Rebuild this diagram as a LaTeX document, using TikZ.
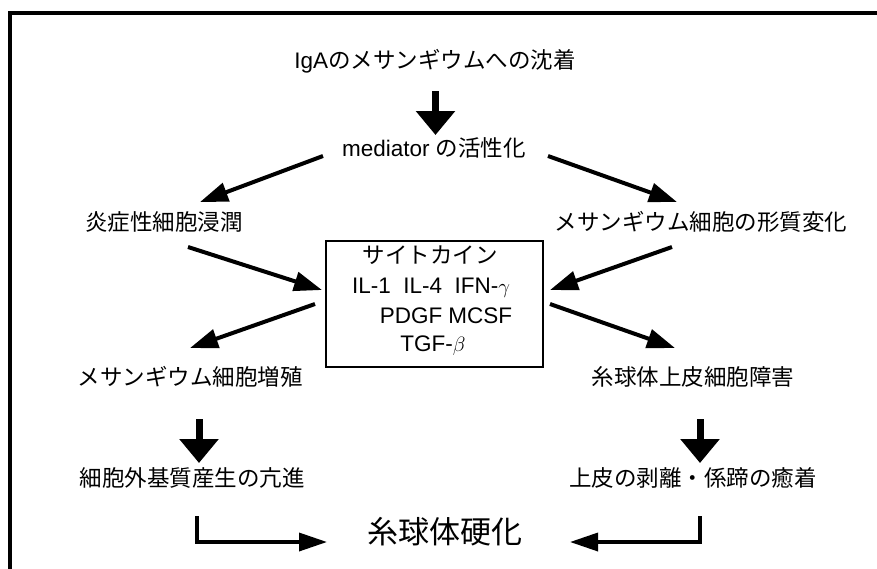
\documentclass[tikz,border=0pt]{standalone}
\usepackage{fontspec}
\setmainfont{Liberation Sans}
\newfontfamily\jp{Noto Sans CJK JP}
\usetikzlibrary{arrows.meta}
\begin{document}
\begin{tikzpicture}[x=1pt,y=-1pt,
  lbl/.style={inner sep=0pt, font=\fontsize{22.5}{27}\selectfont, text height=0.86em, text depth=0.1em},
  biglbl/.style={inner sep=0pt, font=\fontsize{31}{37}\selectfont, text height=0.86em, text depth=0.1em},
  thinarrow/.style={line width=4pt, -{Triangle[length=28pt,width=19pt]}},
  fatarrow/.style={line width=7pt, -{Triangle[length=24pt,width=38pt]}},
  elbowarrow/.style={line width=3.5pt, -{Triangle[length=28pt,width=18pt]}},
  cytobox/.style={draw, line width=2.5pt, minimum width=217pt, minimum height=126pt, inner sep=0pt}
]
\useasboundingbox (0,0) rectangle (877,568);
\fill[white] (0,0) rectangle (877,568);
% outer frame (cut off at right and bottom)
\draw[line width=4pt] (9.5,13) rectangle (900,600);

% texts
\node[lbl] (iga) at (435,65) {IgA{\jp のメサンギウムへの沈着}};
\node[lbl] (med) at (434,153) {mediator {\jp の活性化}};
\node[lbl] (inf) at (164,227) {\jp 炎症性細胞浸潤};
\node[lbl] (mes) at (701,227) {\jp メサンギウム細胞の形質変化};
\node[cytobox] (box) at (434.5,304) {};
\node[lbl] (c1) at (430,260) {\jp サイトカイン};
\node[lbl] (c2) at (431,290) {IL-1\ \ IL-4\ \ IFN-$\gamma$};
\node[lbl] (c3) at (446,320) {PDGF MCSF};
\node[lbl] (c4) at (433,348) {TGF-$\beta$};
\node[lbl] (pro) at (190,382) {\jp メサンギウム細胞増殖};
\node[lbl] (epi) at (693,382) {\jp 糸球体上皮細胞障害};
\node[lbl] (ecm) at (192,483) {\jp 細胞外基質産生の亢進};
\node[lbl] (det) at (693,483) {\jp 上皮の剥離・係蹄の癒着};
\node[biglbl] (scl) at (445,540) {\jp 糸球体硬化};

% connector end points
\coordinate (igaS) at (435.5,91);
\coordinate (medT) at (435.5,135);
\coordinate (medL) at (323,156);
\coordinate (infT) at (200,202);
\coordinate (medR) at (548,156);
\coordinate (mesT) at (677,202);
\coordinate (infS) at (188,247);
\coordinate (boxL) at (322,290);
\coordinate (mesS) at (672,247);
\coordinate (boxR) at (550,290);
\coordinate (boxLS) at (315,304);
\coordinate (proT) at (190,348);
\coordinate (boxRS) at (550,304);
\coordinate (epiT) at (675,348);
\coordinate (proS) at (199,419);
\coordinate (ecmT) at (199,463);
\coordinate (epiS) at (700,419);
\coordinate (detT) at (700,463);
\coordinate (ecmS) at (197,516);
\coordinate (sclL) at (327,542);
\coordinate (detS) at (700,516);
\coordinate (sclR) at (570,542);

\draw[fatarrow] (igaS) -- (medT);
\draw[thinarrow] (medL) -- (infT);
\draw[thinarrow] (medR) -- (mesT);
\draw[thinarrow] (infS) -- (boxL);
\draw[thinarrow] (mesS) -- (boxR);
\draw[thinarrow] (boxLS) -- (proT);
\draw[thinarrow] (boxRS) -- (epiT);
\draw[fatarrow] (proS) -- (ecmT);
\draw[fatarrow] (epiS) -- (detT);
\draw[elbowarrow] (ecmS) |- (sclL);
\draw[elbowarrow] (detS) |- (sclR);
\end{tikzpicture}
\end{document}
